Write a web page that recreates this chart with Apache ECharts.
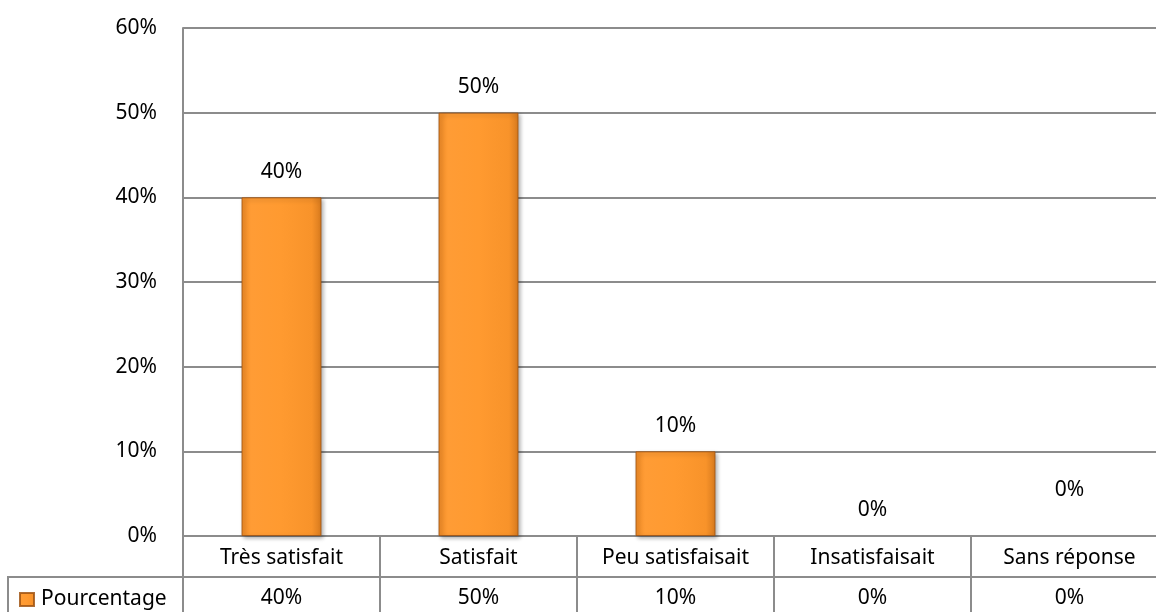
<!DOCTYPE html>
<html>
<head>
<meta charset="utf-8">
<style>
  html, body { margin: 0; padding: 0; background: #fff; }
  #chart { width: 1156px; height: 612px; }
</style>
<script src="https://cdn.jsdelivr.net/npm/echarts@6/dist/echarts.min.js"></script>
</head>
<body>
<div id="chart"></div>
<script>
// ---- data ----
const categories = ['Très satisfait', 'Satisfait', 'Peu satisfaisait', 'Insatisfaisait', 'Sans réponse'];
const seriesName = 'Pourcentage';
const values = [40, 50, 10, 0, 0];
const yTicks = { min: 0, max: 60, interval: 10 };

const pct = v => v + '%';
const FONT = 'Noto Sans';
const GRID = '#8c8c8c';

const chart = echarts.init(document.getElementById('chart'), null, { renderer: 'canvas' });

const barColor = new echarts.graphic.LinearGradient(0, 0, 1, 0, [
  { offset: 0, color: '#EE8A26' },
  { offset: 0.12, color: '#FF9C35' },
  { offset: 0.5, color: '#FF9A30' },
  { offset: 0.88, color: '#F8932A' },
  { offset: 1, color: '#D77A1E' }
]);

const gridBase = { outerBoundsMode: 'none', containLabel: false };

const option = {
  animation: false,
  textStyle: { fontFamily: FONT },
  legend: {
    data: [seriesName],
    left: 14,
    top: 584,
    icon: 'rect',
    itemWidth: 14,
    itemHeight: 13,
    itemGap: 0,
    textStyle: { fontFamily: FONT, fontSize: 21, color: '#000', padding: [0, 0, 0, 2] }
  },
  grid: [
    Object.assign({ left: 183, top: 28, width: 985, height: 508 }, gridBase),
    Object.assign({ left: 183, top: 536, width: 985, height: 41, show: true, borderColor: GRID, borderWidth: 2, backgroundColor: 'transparent' }, gridBase),
    Object.assign({ left: 183, top: 577, width: 985, height: 42, show: true, borderColor: GRID, borderWidth: 2, backgroundColor: 'transparent' }, gridBase),
    Object.assign({ left: 8, top: 577, width: 175, height: 42, show: true, borderColor: GRID, borderWidth: 2, backgroundColor: 'transparent' }, gridBase)
  ],
  xAxis: [
    {
      gridIndex: 0, type: 'category', data: categories,
      axisLine: { show: true, lineStyle: { color: GRID, width: 2 } },
      axisTick: { show: false },
      splitLine: { show: false },
      axisLabel: { margin: 12, fontFamily: FONT, fontSize: 21, color: '#000', interval: 0 }
    },
    {
      gridIndex: 1, type: 'category', data: categories,
      axisLine: { show: false },
      axisTick: { show: false },
      splitLine: { show: true, interval: 0, lineStyle: { color: GRID, width: 2 } },
      axisLabel: {
        margin: 11, fontFamily: FONT, fontSize: 21, color: '#000', interval: 0,
        formatter: (val, idx) => pct(values[idx])
      }
    },
    {
      gridIndex: 2, type: 'category', data: categories,
      axisLine: { show: false },
      axisTick: { show: false },
      splitLine: { show: true, interval: 0, lineStyle: { color: GRID, width: 2 } },
      axisLabel: { show: false }
    },
    {
      gridIndex: 3, type: 'category', data: [''], show: false
    }
  ],
  yAxis: [
    {
      gridIndex: 0, type: 'value', min: yTicks.min, max: yTicks.max, interval: yTicks.interval,
      axisLine: { show: true, lineStyle: { color: GRID, width: 2 } },
      axisTick: { show: false },
      splitLine: { show: true, lineStyle: { color: GRID, width: 2 } },
      axisLabel: { margin: 26, fontFamily: FONT, fontSize: 21, color: '#000', formatter: v => pct(v) }
    },
    { gridIndex: 1, type: 'value', show: false, splitLine: { show: false } },
    { gridIndex: 2, type: 'value', show: false, splitLine: { show: false } },
    { gridIndex: 3, type: 'value', show: false, splitLine: { show: false } }
  ],
  series: [
    {
      name: seriesName,
      type: 'bar',
      xAxisIndex: 0, yAxisIndex: 0,
      barWidth: 80,
      data: values.map((v, i) => {
        const item = { value: v };
        if (v === 0) item.itemStyle = { color: 'rgba(0,0,0,0)', borderWidth: 0, shadowBlur: 0, shadowOffsetX: 0, shadowOffsetY: 0, shadowColor: 'rgba(0,0,0,0)' };
        if (i === values.length - 1) item.label = { offset: [0, -20] };
        return item;
      }),
      itemStyle: {
        color: barColor,
        borderColor: 'rgba(160,85,20,0.85)',
        borderWidth: 1,
        shadowColor: 'rgba(0,0,0,0.3)',
        shadowBlur: 4,
        shadowOffsetX: 2,
        shadowOffsetY: 2
      },
      label: {
        show: true, position: 'top', distance: 15,
        fontFamily: FONT, fontSize: 21, color: '#000',
        formatter: p => pct(p.value)
      }
    }
  ]
};

chart.setOption(option);
</script>
</body>
</html>
